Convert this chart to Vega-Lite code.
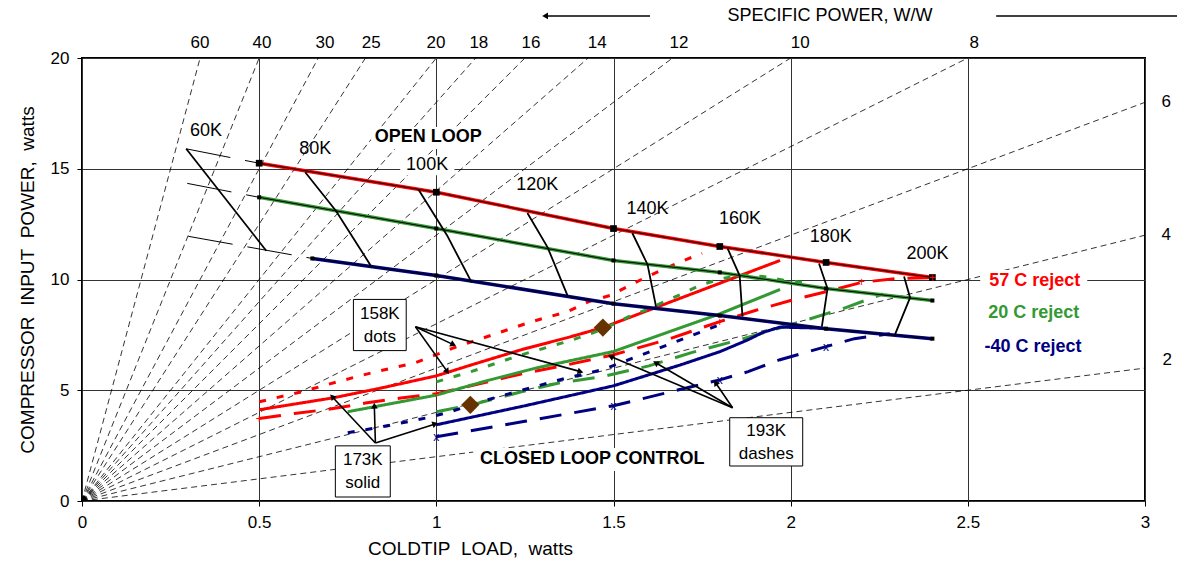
{
  "$schema": "https://vega.github.io/schema/vega-lite/v6.json",
  "width": 1063,
  "height": 443,
  "autosize": {"type": "none"},
  "padding": {"left": 82, "top": 58, "right": 32, "bottom": 66},
  "background": "white",
  "config": {
    "font": "Liberation Sans",
    "view": {"stroke": "black", "strokeWidth": 2},
    "axis": {"labelColor": "black", "titleColor": "black", "labelFont": "Liberation Sans", "titleFont": "Liberation Sans", "titleFontWeight": "normal", "labelFlush": false}
  },
  "datasets": {
    "sp": [
      {"sp": 60, "x": 0, "y": 0}, {"sp": 60, "x": 0.3333, "y": 20},
      {"sp": 40, "x": 0, "y": 0}, {"sp": 40, "x": 0.5, "y": 20},
      {"sp": 30, "x": 0, "y": 0}, {"sp": 30, "x": 0.6667, "y": 20},
      {"sp": 25, "x": 0, "y": 0}, {"sp": 25, "x": 0.8, "y": 20},
      {"sp": 20, "x": 0, "y": 0}, {"sp": 20, "x": 1.0, "y": 20},
      {"sp": 18, "x": 0, "y": 0}, {"sp": 18, "x": 1.1111, "y": 20},
      {"sp": 16, "x": 0, "y": 0}, {"sp": 16, "x": 1.25, "y": 20},
      {"sp": 14, "x": 0, "y": 0}, {"sp": 14, "x": 1.4286, "y": 20},
      {"sp": 12, "x": 0, "y": 0}, {"sp": 12, "x": 1.6667, "y": 20},
      {"sp": 10, "x": 0, "y": 0}, {"sp": 10, "x": 2.0, "y": 20},
      {"sp": 8, "x": 0, "y": 0}, {"sp": 8, "x": 2.5, "y": 20},
      {"sp": 6, "x": 0, "y": 0}, {"sp": 6, "x": 3.0, "y": 18},
      {"sp": 4, "x": 0, "y": 0}, {"sp": 4, "x": 3.0, "y": 12},
      {"sp": 2, "x": 0, "y": 0}, {"sp": 2, "x": 3.0, "y": 6}
    ],
    "open": [
      {"rej": "57", "x": 0.5, "y": 15.25}, {"rej": "57", "x": 1.0, "y": 13.94}, {"rej": "57", "x": 1.5, "y": 12.3}, {"rej": "57", "x": 1.8, "y": 11.49}, {"rej": "57", "x": 2.1, "y": 10.77}, {"rej": "57", "x": 2.4, "y": 10.09},
      {"rej": "20", "x": 0.5, "y": 13.71}, {"rej": "20", "x": 1.0, "y": 12.3}, {"rej": "20", "x": 1.5, "y": 10.86}, {"rej": "20", "x": 1.8, "y": 10.32}, {"rej": "20", "x": 2.1, "y": 9.59}, {"rej": "20", "x": 2.4, "y": 9.05},
      {"rej": "-40", "x": 0.65, "y": 10.95}, {"rej": "-40", "x": 1.0, "y": 10.18}, {"rej": "-40", "x": 1.5, "y": 8.91}, {"rej": "-40", "x": 1.8, "y": 8.37}, {"rej": "-40", "x": 2.1, "y": 7.78}, {"rej": "-40", "x": 2.4, "y": 7.33}
    ],
    "ext": [
      {"s": "r", "x": 0.294, "y": 15.9}, {"s": "r", "x": 0.5, "y": 15.25},
      {"s": "g", "x": 0.297, "y": 14.34}, {"s": "g", "x": 0.5, "y": 13.71},
      {"s": "b", "x": 0.3, "y": 11.95}, {"s": "b", "x": 0.65, "y": 10.95}
    ],
    "iso": [
      {"T": "60K", "seq": 1, "x": 0.294, "y": 15.9}, {"T": "60K", "seq": 2, "x": 0.52, "y": 11.3},
      {"T": "80K", "seq": 1, "x": 0.63, "y": 14.84}, {"T": "80K", "seq": 2, "x": 0.717, "y": 13.09}, {"T": "80K", "seq": 3, "x": 0.816, "y": 10.6},
      {"T": "100K", "seq": 1, "x": 0.95, "y": 14.05}, {"T": "100K", "seq": 2, "x": 1.03, "y": 12.0}, {"T": "100K", "seq": 3, "x": 1.1, "y": 9.86},
      {"T": "120K", "seq": 1, "x": 1.257, "y": 13.0}, {"T": "120K", "seq": 2, "x": 1.314, "y": 11.45}, {"T": "120K", "seq": 3, "x": 1.37, "y": 9.28},
      {"T": "140K", "seq": 1, "x": 1.553, "y": 12.1}, {"T": "140K", "seq": 2, "x": 1.596, "y": 10.68}, {"T": "140K", "seq": 3, "x": 1.62, "y": 8.78},
      {"T": "160K", "seq": 1, "x": 1.822, "y": 11.4}, {"T": "160K", "seq": 2, "x": 1.856, "y": 10.18}, {"T": "160K", "seq": 3, "x": 1.864, "y": 8.33},
      {"T": "180K", "seq": 1, "x": 2.08, "y": 10.72}, {"T": "180K", "seq": 2, "x": 2.104, "y": 9.59}, {"T": "180K", "seq": 3, "x": 2.088, "y": 7.87},
      {"T": "200K", "seq": 1, "x": 2.32, "y": 10.13}, {"T": "200K", "seq": 2, "x": 2.337, "y": 9.18}, {"T": "200K", "seq": 3, "x": 2.294, "y": 7.5}
    ],
    "closed": [
      {"s": "R158", "rej": "57", "style": "158K", "x": 0.5, "y": 4.48}, {"s": "R158", "rej": "57", "style": "158K", "x": 0.62, "y": 4.93}, {"s": "R158", "rej": "57", "style": "158K", "x": 0.72, "y": 5.38}, {"s": "R158", "rej": "57", "style": "158K", "x": 0.83, "y": 5.84}, {"s": "R158", "rej": "57", "style": "158K", "x": 0.94, "y": 6.24}, {"s": "R158", "rej": "57", "style": "158K", "x": 1.05, "y": 6.92}, {"s": "R158", "rej": "57", "style": "158K", "x": 1.16, "y": 7.51}, {"s": "R158", "rej": "57", "style": "158K", "x": 1.27, "y": 8.1}, {"s": "R158", "rej": "57", "style": "158K", "x": 1.37, "y": 8.55}, {"s": "R158", "rej": "57", "style": "158K", "x": 1.43, "y": 9.0}, {"s": "R158", "rej": "57", "style": "158K", "x": 1.49, "y": 9.28}, {"s": "R158", "rej": "57", "style": "158K", "x": 1.59, "y": 10.09}, {"s": "R158", "rej": "57", "style": "158K", "x": 1.69, "y": 10.81}, {"s": "R158", "rej": "57", "style": "158K", "x": 1.75, "y": 11.18},
      {"s": "R173", "rej": "57", "style": "173K", "x": 0.5, "y": 4.12}, {"s": "R173", "rej": "57", "style": "173K", "x": 0.71, "y": 4.66}, {"s": "R173", "rej": "57", "style": "173K", "x": 0.85, "y": 5.12}, {"s": "R173", "rej": "57", "style": "173K", "x": 1.0, "y": 5.65}, {"s": "R173", "rej": "57", "style": "173K", "x": 1.1, "y": 6.15}, {"s": "R173", "rej": "57", "style": "173K", "x": 1.24, "y": 6.83}, {"s": "R173", "rej": "57", "style": "173K", "x": 1.38, "y": 7.42}, {"s": "R173", "rej": "57", "style": "173K", "x": 1.47, "y": 7.83}, {"s": "R173", "rej": "57", "style": "173K", "x": 1.97, "y": 10.86},
      {"s": "R193", "rej": "57", "style": "193K", "x": 0.5, "y": 3.72}, {"s": "R193", "rej": "57", "style": "193K", "x": 0.6, "y": 3.95}, {"s": "R193", "rej": "57", "style": "193K", "x": 0.7, "y": 4.15}, {"s": "R193", "rej": "57", "style": "193K", "x": 0.8, "y": 4.42}, {"s": "R193", "rej": "57", "style": "193K", "x": 0.9, "y": 4.65}, {"s": "R193", "rej": "57", "style": "193K", "x": 1.0, "y": 4.84}, {"s": "R193", "rej": "57", "style": "193K", "x": 1.23, "y": 5.7}, {"s": "R193", "rej": "57", "style": "193K", "x": 1.37, "y": 6.15}, {"s": "R193", "rej": "57", "style": "193K", "x": 1.5, "y": 6.6}, {"s": "R193", "rej": "57", "style": "193K", "x": 1.65, "y": 7.28}, {"s": "R193", "rej": "57", "style": "193K", "x": 1.8, "y": 8.1}, {"s": "R193", "rej": "57", "style": "193K", "x": 1.9, "y": 8.6}, {"s": "R193", "rej": "57", "style": "193K", "x": 2.0, "y": 9.05}, {"s": "R193", "rej": "57", "style": "193K", "x": 2.1, "y": 9.45}, {"s": "R193", "rej": "57", "style": "193K", "x": 2.2, "y": 9.87}, {"s": "R193", "rej": "57", "style": "193K", "x": 2.3, "y": 10.05}, {"s": "R193", "rej": "57", "style": "193K", "x": 2.4, "y": 10.08},
      {"s": "G158", "rej": "20", "style": "158K", "x": 1.0, "y": 5.38}, {"s": "G158", "rej": "20", "style": "158K", "x": 1.1, "y": 5.85}, {"s": "G158", "rej": "20", "style": "158K", "x": 1.24, "y": 6.6}, {"s": "G158", "rej": "20", "style": "158K", "x": 1.38, "y": 7.25}, {"s": "G158", "rej": "20", "style": "158K", "x": 1.47, "y": 7.75}, {"s": "G158", "rej": "20", "style": "158K", "x": 1.54, "y": 8.3}, {"s": "G158", "rej": "20", "style": "158K", "x": 1.6, "y": 8.68}, {"s": "G158", "rej": "20", "style": "158K", "x": 1.65, "y": 9.05}, {"s": "G158", "rej": "20", "style": "158K", "x": 1.7, "y": 9.4}, {"s": "G158", "rej": "20", "style": "158K", "x": 1.75, "y": 9.78}, {"s": "G158", "rej": "20", "style": "158K", "x": 1.81, "y": 10.05}, {"s": "G158", "rej": "20", "style": "158K", "x": 1.87, "y": 10.2}, {"s": "G158", "rej": "20", "style": "158K", "x": 1.92, "y": 10.14}, {"s": "G158", "rej": "20", "style": "158K", "x": 1.98, "y": 9.97}, {"s": "G158", "rej": "20", "style": "158K", "x": 2.04, "y": 9.86},
      {"s": "G173", "rej": "20", "style": "173K", "x": 0.75, "y": 4.03}, {"s": "G173", "rej": "20", "style": "173K", "x": 1.0, "y": 4.78}, {"s": "G173", "rej": "20", "style": "173K", "x": 1.14, "y": 5.42}, {"s": "G173", "rej": "20", "style": "173K", "x": 1.28, "y": 6.0}, {"s": "G173", "rej": "20", "style": "173K", "x": 1.5, "y": 6.75}, {"s": "G173", "rej": "20", "style": "173K", "x": 1.65, "y": 7.6}, {"s": "G173", "rej": "20", "style": "173K", "x": 1.8, "y": 8.45}, {"s": "G173", "rej": "20", "style": "173K", "x": 1.97, "y": 9.55},
      {"s": "G193", "rej": "20", "style": "193K", "x": 1.0, "y": 4.03}, {"s": "G193", "rej": "20", "style": "193K", "x": 1.1, "y": 4.34}, {"s": "G193", "rej": "20", "style": "193K", "x": 1.24, "y": 4.93}, {"s": "G193", "rej": "20", "style": "193K", "x": 1.35, "y": 5.34}, {"s": "G193", "rej": "20", "style": "193K", "x": 1.47, "y": 5.62}, {"s": "G193", "rej": "20", "style": "193K", "x": 1.6, "y": 6.1}, {"s": "G193", "rej": "20", "style": "193K", "x": 1.72, "y": 6.7}, {"s": "G193", "rej": "20", "style": "193K", "x": 1.85, "y": 7.25}, {"s": "G193", "rej": "20", "style": "193K", "x": 1.95, "y": 7.72}, {"s": "G193", "rej": "20", "style": "193K", "x": 2.05, "y": 8.2}, {"s": "G193", "rej": "20", "style": "193K", "x": 2.15, "y": 8.7}, {"s": "G193", "rej": "20", "style": "193K", "x": 2.26, "y": 9.35},
      {"s": "B158", "rej": "-40", "style": "158K", "x": 0.75, "y": 3.08}, {"s": "B158", "rej": "-40", "style": "158K", "x": 0.86, "y": 3.39}, {"s": "B158", "rej": "-40", "style": "158K", "x": 0.975, "y": 3.76}, {"s": "B158", "rej": "-40", "style": "158K", "x": 1.04, "y": 4.03}, {"s": "B158", "rej": "-40", "style": "158K", "x": 1.144, "y": 4.57}, {"s": "B158", "rej": "-40", "style": "158K", "x": 1.246, "y": 5.02}, {"s": "B158", "rej": "-40", "style": "158K", "x": 1.35, "y": 5.48}, {"s": "B158", "rej": "-40", "style": "158K", "x": 1.47, "y": 5.93}, {"s": "B158", "rej": "-40", "style": "158K", "x": 1.576, "y": 6.58}, {"s": "B158", "rej": "-40", "style": "158K", "x": 1.684, "y": 7.24}, {"s": "B158", "rej": "-40", "style": "158K", "x": 1.794, "y": 7.92},
      {"s": "B173", "rej": "-40", "style": "173K", "x": 1.0, "y": 3.44}, {"s": "B173", "rej": "-40", "style": "173K", "x": 1.25, "y": 4.3}, {"s": "B173", "rej": "-40", "style": "173K", "x": 1.5, "y": 5.2}, {"s": "B173", "rej": "-40", "style": "173K", "x": 1.69, "y": 6.15}, {"s": "B173", "rej": "-40", "style": "173K", "x": 1.8, "y": 6.74}, {"s": "B173", "rej": "-40", "style": "173K", "x": 1.88, "y": 7.28}, {"s": "B173", "rej": "-40", "style": "173K", "x": 1.92, "y": 7.6}, {"s": "B173", "rej": "-40", "style": "173K", "x": 1.97, "y": 7.85}, {"s": "B173", "rej": "-40", "style": "173K", "x": 2.09, "y": 7.8},
      {"s": "B193", "rej": "-40", "style": "193K", "x": 1.0, "y": 2.9}, {"s": "B193", "rej": "-40", "style": "193K", "x": 1.25, "y": 3.6}, {"s": "B193", "rej": "-40", "style": "193K", "x": 1.5, "y": 4.3}, {"s": "B193", "rej": "-40", "style": "193K", "x": 1.72, "y": 5.16}, {"s": "B193", "rej": "-40", "style": "193K", "x": 1.8, "y": 5.47}, {"s": "B193", "rej": "-40", "style": "193K", "x": 1.88, "y": 5.84}, {"s": "B193", "rej": "-40", "style": "193K", "x": 1.97, "y": 6.38}, {"s": "B193", "rej": "-40", "style": "193K", "x": 2.1, "y": 6.97}, {"s": "B193", "rej": "-40", "style": "193K", "x": 2.18, "y": 7.33}, {"s": "B193", "rej": "-40", "style": "193K", "x": 2.28, "y": 7.55}
    ],
    "syms": [
      {"label": "+", "rej": "57", "x": 0.5, "y": 3.72}, {"label": "+", "rej": "57", "x": 1.0, "y": 4.84}, {"label": "+", "rej": "57", "x": 1.5, "y": 6.6}, {"label": "+", "rej": "57", "x": 1.8, "y": 8.1}, {"label": "+", "rej": "57", "x": 2.2, "y": 9.87}, {"label": "+", "rej": "57", "x": 2.4, "y": 10.08},
      {"label": "x", "rej": "-40", "x": 1.0, "y": 2.9}, {"label": "x", "rej": "-40", "x": 1.5, "y": 4.3}, {"label": "x", "rej": "-40", "x": 1.8, "y": 5.47}, {"label": "x", "rej": "-40", "x": 2.1, "y": 6.97}
    ],
    "diam": [{"x": 1.47, "y": 7.83}, {"x": 1.096, "y": 4.34}],
    "arrows": [
      {"x": 0.941, "y": 7.87, "x2": 1.048, "y2": 7.06}, {"x": 0.941, "y": 7.87, "x2": 1.031, "y2": 5.84}, {"x": 0.941, "y": 7.87, "x2": 1.407, "y2": 5.84},
      {"x": 0.828, "y": 2.62, "x2": 0.706, "y2": 4.71}, {"x": 0.828, "y": 2.62, "x2": 0.825, "y2": 4.3}, {"x": 0.828, "y": 2.62, "x2": 0.997, "y2": 3.48},
      {"x": 1.836, "y": 4.21, "x2": 1.492, "y2": 6.52}, {"x": 1.836, "y": 4.21, "x2": 1.619, "y2": 6.24}, {"x": 1.836, "y": 4.21, "x2": 1.788, "y2": 5.34}
    ],
    "boxes": [
      {"x": 0.766, "x2": 0.915, "y": 9.1, "y2": 6.79},
      {"x": 0.715, "x2": 0.87, "y": 2.49, "y2": 0.18},
      {"x": 1.828, "x2": 2.034, "y": 3.76, "y2": 1.58}
    ],
    "white": [
      {"x": 0.898, "x2": 1.051, "y": 15.6, "y2": 14.71},
      {"x": 0.816, "x2": 1.14, "y": 16.88, "y2": 15.89},
      {"x": 1.104, "x2": 1.775, "y": 2.39, "y2": 1.35},
      {"x": 2.535, "x2": 2.837, "y": 10.43, "y2": 9.44}
    ],
    "labels": [
      {"kind": "temp", "label": "60K", "x": 0.35, "y": 16.7},
      {"kind": "temp", "label": "80K", "x": 0.658, "y": 15.88},
      {"kind": "temp", "label": "100K", "x": 0.974, "y": 15.16},
      {"kind": "temp", "label": "120K", "x": 1.285, "y": 14.25},
      {"kind": "temp", "label": "140K", "x": 1.596, "y": 13.17},
      {"kind": "temp", "label": "160K", "x": 1.857, "y": 12.71},
      {"kind": "temp", "label": "180K", "x": 2.113, "y": 11.9},
      {"kind": "temp", "label": "200K", "x": 2.386, "y": 11.13},
      {"kind": "bold", "label": "OPEN LOOP", "x": 0.977, "y": 16.43},
      {"kind": "bold", "label": "CLOSED LOOP CONTROL", "x": 1.44, "y": 1.9},
      {"kind": "box", "label": "158K\ndots", "x": 0.8405, "y": 7.945},
      {"kind": "box", "label": "173K\nsolid", "x": 0.7925, "y": 1.335},
      {"kind": "box", "label": "193K\ndashes", "x": 1.931, "y": 2.67},
      {"kind": "top", "label": "60", "x": 0.333, "y": 20.68},
      {"kind": "top", "label": "40", "x": 0.508, "y": 20.68},
      {"kind": "top", "label": "30", "x": 0.686, "y": 20.68},
      {"kind": "top", "label": "25", "x": 0.816, "y": 20.68},
      {"kind": "top", "label": "20", "x": 0.999, "y": 20.68},
      {"kind": "top", "label": "18", "x": 1.12, "y": 20.68},
      {"kind": "top", "label": "16", "x": 1.267, "y": 20.68},
      {"kind": "top", "label": "14", "x": 1.454, "y": 20.68},
      {"kind": "top", "label": "12", "x": 1.685, "y": 20.68},
      {"kind": "top", "label": "10", "x": 2.027, "y": 20.68},
      {"kind": "top", "label": "8", "x": 2.518, "y": 20.68},
      {"kind": "top", "label": "6", "x": 3.06, "y": 18.0},
      {"kind": "top", "label": "4", "x": 3.06, "y": 12.0},
      {"kind": "top", "label": "2", "x": 3.063, "y": 6.35},
      {"kind": "head", "label": "SPECIFIC POWER, W/W", "x": 2.111, "y": 21.9}
    ],
    "rejlab": [
      {"label": "57 C reject", "rej": "57", "x": 2.689, "y": 9.95},
      {"label": "20 C reject", "rej": "20", "x": 2.686, "y": 8.5},
      {"label": "-40 C reject", "rej": "-40", "x": 2.684, "y": 6.97}
    ],
    "hlines": [
      {"x": 1.307, "x2": 1.603, "y": 21.9},
      {"x": 2.58, "x2": 3.091, "y": 21.9}
    ],
    "harrow": [{"x": 1.307, "y": 21.9}],
    "origin": [{"x": 0, "y": 0}]
  },
  "encoding": {
    "x": {
      "field": "x", "type": "quantitative",
      "scale": {"domain": [0, 3], "nice": false, "zero": false},
      "axis": {"title": "COLDTIP\u00a0\u00a0LOAD,\u00a0\u00a0watts", "values": [0, 0.5, 1, 1.5, 2, 2.5, 3], "format": "~g", "grid": true, "gridColor": "#333333", "gridWidth": 1, "domain": false, "ticks": true, "tickSize": 5, "tickColor": "black", "labelFontSize": 17, "labelPadding": 8, "titleFontSize": 19, "titlePadding": 9, "titleX": 388, "titleAnchor": "middle"}
    },
    "y": {
      "field": "y", "type": "quantitative",
      "scale": {"domain": [0, 20], "nice": false, "zero": false},
      "axis": {"title": "COMPRESSOR\u00a0\u00a0INPUT\u00a0\u00a0POWER,\u00a0\u00a0watts", "values": [0, 5, 10, 15, 20], "grid": true, "gridColor": "#333333", "gridWidth": 1, "domain": false, "ticks": true, "tickSize": 5, "tickColor": "black", "labelFontSize": 17, "labelPadding": 8, "titleFontSize": 19, "titlePadding": 13}
    }
  },
  "layer": [
    {
      "data": {"name": "sp"},
      "mark": {"type": "line", "color": "black", "strokeWidth": 0.8, "strokeDash": [6, 4]},
      "encoding": {"detail": {"field": "sp", "type": "nominal"}}
    },
    {
      "data": {"name": "ext"},
      "mark": {"type": "line", "color": "black", "strokeWidth": 1, "strokeDash": [45, 15]},
      "encoding": {"detail": {"field": "s", "type": "nominal"}}
    },
    {
      "data": {"name": "white"},
      "mark": {"type": "rect", "fill": "white", "stroke": null},
      "encoding": {"x2": {"field": "x2"}, "y2": {"field": "y2"}}
    },
    {
      "data": {"name": "closed"},
      "mark": {"type": "line", "strokeWidth": 3},
      "encoding": {
        "color": {"field": "rej", "type": "nominal", "scale": {"domain": ["57", "20", "-40"], "range": ["#ff0000", "#339933", "#000080"]}, "legend": null},
        "strokeDash": {"field": "style", "type": "nominal", "scale": {"domain": ["158K", "173K", "193K"], "range": [[7, 11], [1, 0], [22, 13]]}, "legend": null},
        "detail": {"field": "s", "type": "nominal"}
      }
    },
    {
      "data": {"name": "open"},
      "mark": {"type": "line", "strokeWidth": 3.5},
      "encoding": {
        "color": {"field": "rej", "type": "nominal", "scale": {"domain": ["57", "20", "-40"], "range": ["#ff0000", "#339933", "#000080"]}, "legend": null},
        "detail": {"field": "rej", "type": "nominal"}
      }
    },
    {
      "data": {"name": "open"},
      "mark": {"type": "line", "strokeWidth": 1, "color": "black"},
      "encoding": {"detail": {"field": "rej", "type": "nominal"}}
    },
    {
      "data": {"name": "iso"},
      "mark": {"type": "line", "strokeWidth": 1.8, "color": "black"},
      "encoding": {"detail": {"field": "T", "type": "nominal"}, "order": {"field": "seq", "type": "quantitative"}}
    },
    {
      "data": {"name": "open"},
      "transform": [{"filter": "datum.rej == '57'"}],
      "mark": {"type": "point", "shape": "square", "filled": true, "color": "black", "size": 45, "opacity": 1}
    },
    {
      "data": {"name": "open"},
      "transform": [{"filter": "datum.rej != '57'"}],
      "mark": {"type": "point", "shape": "square", "filled": true, "color": "black", "size": 16, "opacity": 1}
    },
    {
      "data": {"name": "syms"},
      "mark": {"type": "text", "fontSize": 12, "align": "center", "baseline": "middle"},
      "encoding": {
        "text": {"field": "label"},
        "color": {"field": "rej", "type": "nominal", "scale": {"domain": ["57", "20", "-40"], "range": ["#ff0000", "#339933", "#000080"]}, "legend": null}
      }
    },
    {
      "data": {"name": "diam"},
      "mark": {"type": "point", "shape": "diamond", "filled": true, "color": "#663300", "size": 330, "opacity": 1}
    },
    {
      "data": {"name": "arrows"},
      "mark": {"type": "rule", "color": "black", "strokeWidth": 1.6},
      "encoding": {"x2": {"field": "x2"}, "y2": {"field": "y2"}}
    },
    {
      "data": {"name": "arrows"},
      "transform": [{"calculate": "atan2((datum.x2 - datum.x) * 354.3, (datum.y2 - datum.y) * 22.15) * 180 / PI", "as": "ang"}],
      "mark": {"type": "point", "shape": "triangle-up", "filled": true, "color": "black", "size": 45, "opacity": 1},
      "encoding": {
        "x": {"field": "x2", "type": "quantitative"},
        "y": {"field": "y2", "type": "quantitative"},
        "angle": {"field": "ang", "type": "quantitative", "scale": null}
      }
    },
    {
      "data": {"name": "boxes"},
      "mark": {"type": "rect", "fill": "white", "stroke": "black", "strokeWidth": 1},
      "encoding": {"x2": {"field": "x2"}, "y2": {"field": "y2"}}
    },
    {
      "data": {"name": "labels"},
      "transform": [{"filter": "datum.kind == 'box'"}],
      "mark": {"type": "text", "fontSize": 17, "lineBreak": "\n", "lineHeight": 23, "align": "center", "baseline": "middle", "dy": -11, "color": "black"},
      "encoding": {"text": {"field": "label"}}
    },
    {
      "data": {"name": "labels"},
      "transform": [{"filter": "datum.kind == 'temp'"}],
      "mark": {"type": "text", "fontSize": 18, "align": "center", "baseline": "middle", "color": "black"},
      "encoding": {"text": {"field": "label"}}
    },
    {
      "data": {"name": "labels"},
      "transform": [{"filter": "datum.kind == 'bold'"}],
      "mark": {"type": "text", "fontSize": 18, "fontWeight": "bold", "align": "center", "baseline": "middle", "color": "black"},
      "encoding": {"text": {"field": "label"}}
    },
    {
      "data": {"name": "labels"},
      "transform": [{"filter": "datum.kind == 'top'"}],
      "mark": {"type": "text", "fontSize": 17, "align": "center", "baseline": "middle", "color": "black"},
      "encoding": {"text": {"field": "label"}}
    },
    {
      "data": {"name": "labels"},
      "transform": [{"filter": "datum.kind == 'head'"}],
      "mark": {"type": "text", "fontSize": 18, "align": "center", "baseline": "middle", "color": "black"},
      "encoding": {"text": {"field": "label"}}
    },
    {
      "data": {"name": "rejlab"},
      "mark": {"type": "text", "fontSize": 18, "fontWeight": "bold", "align": "center", "baseline": "middle"},
      "encoding": {
        "text": {"field": "label"},
        "color": {"field": "rej", "type": "nominal", "scale": {"domain": ["57", "20", "-40"], "range": ["#ff0000", "#339933", "#000080"]}, "legend": null}
      }
    },
    {
      "data": {"name": "hlines"},
      "mark": {"type": "rule", "color": "black", "strokeWidth": 1.5},
      "encoding": {"x2": {"field": "x2"}}
    },
    {
      "data": {"name": "harrow"},
      "mark": {"type": "point", "shape": "triangle-left", "filled": true, "color": "black", "size": 45, "opacity": 1}
    },
    {
      "data": {"name": "origin"},
      "mark": {"type": "point", "shape": "circle", "filled": true, "color": "black", "size": 110, "opacity": 1, "clip": true}
    }
  ]
}
